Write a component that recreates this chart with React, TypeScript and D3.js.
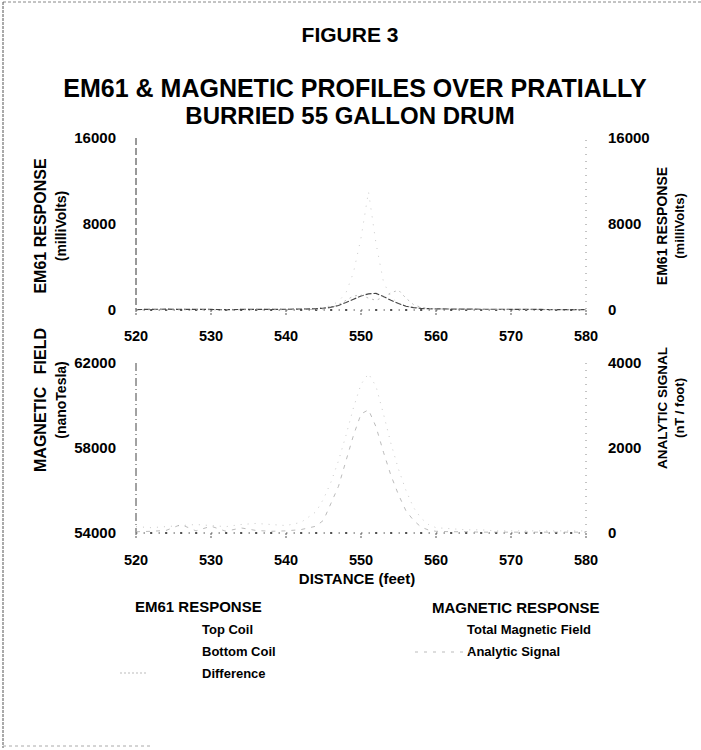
import React from 'react';
import { scaleLinear, line, curveLinear } from 'd3';

// distance along profile (feet)
const distance = [520, 522, 524, 526, 528, 530, 532, 534, 536, 538, 540, 542, 544, 545, 546, 547, 548, 549, 550, 551, 552, 553, 554, 555, 556, 557, 558, 559, 560, 562, 564, 566, 568, 570, 572, 574, 576, 578, 580];

// EM61 response (milliVolts)
const topCoil = [60, 80, 90, 70, 80, 60, 50, 70, 60, 80, 90, 100, 150, 250, 400, 800, 1600, 3500, 6700, 11000, 6200, 2600, 1200, 600, 350, 250, 200, 150, 120, 100, 90, 80, 80, 70, 60, 60, 50, 50, 50];
const bottomCoil = [40, 60, 80, 50, 60, 50, 40, 50, 50, 60, 70, 80, 120, 180, 260, 420, 700, 1000, 1300, 1500, 1550, 1250, 900, 600, 350, 220, 150, 120, 100, 90, 80, 70, 70, 60, 50, 50, 40, 40, 40];
const difference = [20, 30, 30, 20, 30, 20, 20, 30, 20, 30, 30, 40, 60, 100, 200, 500, 900, 1300, 1400, 1100, 900, 1200, 1600, 1850, 1100, 500, 250, 150, 100, 80, 60, 50, 50, 40, 30, 30, 30, 30, 30];

// magnetic response
const totalField = [54300, 54250, 54300, 54350, 54400, 54350, 54300, 54400, 54450, 54400, 54350, 54500, 55000, 55600, 56400, 57400, 58600, 59900, 61000, 61500, 60900, 59600, 58200, 57000, 56000, 55200, 54700, 54400, 54250, 54200, 54150, 54150, 54100, 54100, 54100, 54100, 54100, 54100, 54100];
const analyticSignal = [30, 40, 60, 200, 50, 160, 40, 120, 60, 40, 50, 80, 160, 300, 700, 1100, 1700, 2300, 2800, 2900, 2500, 1900, 1350, 900, 520, 300, 140, 70, 40, 30, 30, 20, 20, 20, 20, 20, 20, 20, 20];

const xTicks = [520, 530, 540, 550, 560, 570, 580];
const emTicks = [0, 8000, 16000];
const magTicks = [54000, 58000, 62000];
const asTicks = [0, 2000, 4000];

const FONT = 'Liberation Sans, Arial, sans-serif';

export default function App() {
  const x = scaleLinear().domain([520, 580]).range([136, 586]);
  const yEm = scaleLinear().domain([0, 16000]).range([310, 138]);
  const yMag = scaleLinear().domain([54000, 62000]).range([533, 363]);
  const yAs = scaleLinear().domain([0, 4000]).range([533, 363]);

  const mk = (ys: number[], yScale: (v: number) => number) =>
    line<number>()
      .x((_, i) => x(distance[i]))
      .y(d => yScale(d))
      .curve(curveLinear)(ys) || '';

  const minor = [522, 524, 526, 528, 532, 534, 536, 538, 542, 544, 546, 548, 552, 554, 556, 558, 562, 564, 566, 568, 572, 574, 576, 578];

  const xAxis = (y0: number, labelY: number) => (
    <g>
      <line x1={x(520)} x2={x(580)} y1={y0} y2={y0} stroke="#555" strokeDasharray="1.5,6" />
      {minor.map(v => (
        <circle key={v} cx={x(v)} cy={y0} r={1} fill="#333" />
      ))}
      {xTicks.map(v => (
        <g key={v}>
          <line x1={x(v)} x2={x(v)} y1={y0} y2={y0 + 6} stroke="#555" strokeDasharray="2,1" />
          <text x={x(v)} y={labelY} textAnchor="middle" fontSize={14.5} fontWeight="bold" fontFamily={FONT}>
            {v}
          </text>
        </g>
      ))}
    </g>
  );

  return (
    <svg width={701} height={750} style={{ position: 'absolute', left: 0, top: 0, background: '#fff' }}>
      {/* scan border */}
      <line x1={3} x2={701} y1={2} y2={2} stroke="#888" strokeDasharray="3,2" />
      <line x1={3} x2={3} y1={2} y2={748} stroke="#555" strokeDasharray="3,1" />
      <line x1={3} x2={150} y1={746} y2={746} stroke="#aaa" strokeDasharray="3,3" />

      <g fontFamily={FONT} fontWeight="bold" textAnchor="middle">
        <text x={350} y={42} fontSize={21}>FIGURE 3</text>
        <text x={355} y={97} fontSize={25}>EM61 &amp; MAGNETIC PROFILES OVER PRATIALLY</text>
        <text x={350} y={124} fontSize={24}>BURRIED 55 GALLON DRUM</text>
      </g>

      {/* axis titles */}
      <g fontFamily={FONT} fontWeight="bold" textAnchor="middle">
        <text transform="translate(46,226) rotate(-90)" fontSize={16}>EM61 RESPONSE</text>
        <text transform="translate(66,226) rotate(-90)" fontSize={14}>(milliVolts)</text>
        <text transform="translate(46,400) rotate(-90)" fontSize={16} style={{ wordSpacing: 8 }}>MAGNETIC FIELD</text>
        <text transform="translate(66,400) rotate(-90)" fontSize={14}>(nanoTesla)</text>
        <text transform="translate(667,226) rotate(-90)" fontSize={14}>EM61 RESPONSE</text>
        <text transform="translate(684,226) rotate(-90)" fontSize={13}>(milliVolts)</text>
        <text transform="translate(667,408) rotate(-90)" fontSize={13.5}>ANALYTIC SIGNAL</text>
        <text transform="translate(684,408) rotate(-90)" fontSize={13}>(nT / foot)</text>
      </g>

      {/* top panel axes */}
      <line x1={136} x2={136} y1={138} y2={310} stroke="#333" strokeDasharray="7,3" />
      <line x1={586} x2={586} y1={140} y2={310} stroke="#888" strokeDasharray="1,6" />
      {emTicks.map(v => (
        <g key={v} fontFamily={FONT} fontWeight="bold" fontSize={15}>
          <text x={116} y={yEm(v) + 5} textAnchor="end">{v}</text>
          <text x={608} y={yEm(v) + 5}>{v}</text>
        </g>
      ))}
      {xAxis(310, 341)}

      {/* top panel series */}
      <path d={mk(topCoil, yEm)} fill="none" stroke="#bbb" strokeWidth={0.8} strokeDasharray="1,7" />
      <path d={mk(bottomCoil, yEm)} fill="none" stroke="#444" strokeWidth={1.2} strokeDasharray="6,2" />
      <path d={mk(difference, yEm)} fill="none" stroke="#aaa" strokeWidth={0.8} strokeDasharray="2,4" />

      {/* bottom panel axes */}
      <line x1={136} x2={136} y1={363} y2={533} stroke="#444" strokeDasharray="8,3,1,3" />
      <line x1={586} x2={586} y1={363} y2={533} stroke="#888" strokeDasharray="1,6" />
      {magTicks.map(v => (
        <text key={v} x={116} y={yMag(v) + 5} textAnchor="end" fontFamily={FONT} fontWeight="bold" fontSize={15}>{v}</text>
      ))}
      {asTicks.map(v => (
        <text key={v} x={608} y={yAs(v) + 5} fontFamily={FONT} fontWeight="bold" fontSize={15}>{v}</text>
      ))}
      {xAxis(533, 565)}
      <text x={357} y={584} textAnchor="middle" fontFamily={FONT} fontWeight="bold" fontSize={15}>DISTANCE (feet)</text>

      {/* bottom panel series */}
      <path d={mk(totalField, yMag)} fill="none" stroke="#bbb" strokeWidth={0.8} strokeDasharray="1,6" />
      <path d={mk(analyticSignal, yAs)} fill="none" stroke="#aaa" strokeWidth={0.8} strokeDasharray="4,6" />

      {/* legend */}
      <g fontFamily={FONT}>
        <text x={135} y={612} fontSize={15} fontWeight="bold">EM61 RESPONSE</text>
        <text x={432} y={613} fontSize={15} fontWeight="bold">MAGNETIC RESPONSE</text>
        <text x={202} y={634} fontSize={13} fontWeight="bold">Top Coil</text>
        <text x={202} y={656} fontSize={13} fontWeight="bold">Bottom Coil</text>
        <text x={202} y={678} fontSize={13} fontWeight="bold">Difference</text>
        <text x={467} y={634} fontSize={13} fontWeight="bold">Total Magnetic Field</text>
        <text x={467} y={656} fontSize={13} fontWeight="bold">Analytic Signal</text>
        <line x1={120} x2={148} y1={673} y2={673} stroke="#bbb" strokeDasharray="2,2" />
        <line x1={415} x2={470} y1={652} y2={652} stroke="#bbb" strokeDasharray="3,6" />
      </g>
    </svg>
  );
}
